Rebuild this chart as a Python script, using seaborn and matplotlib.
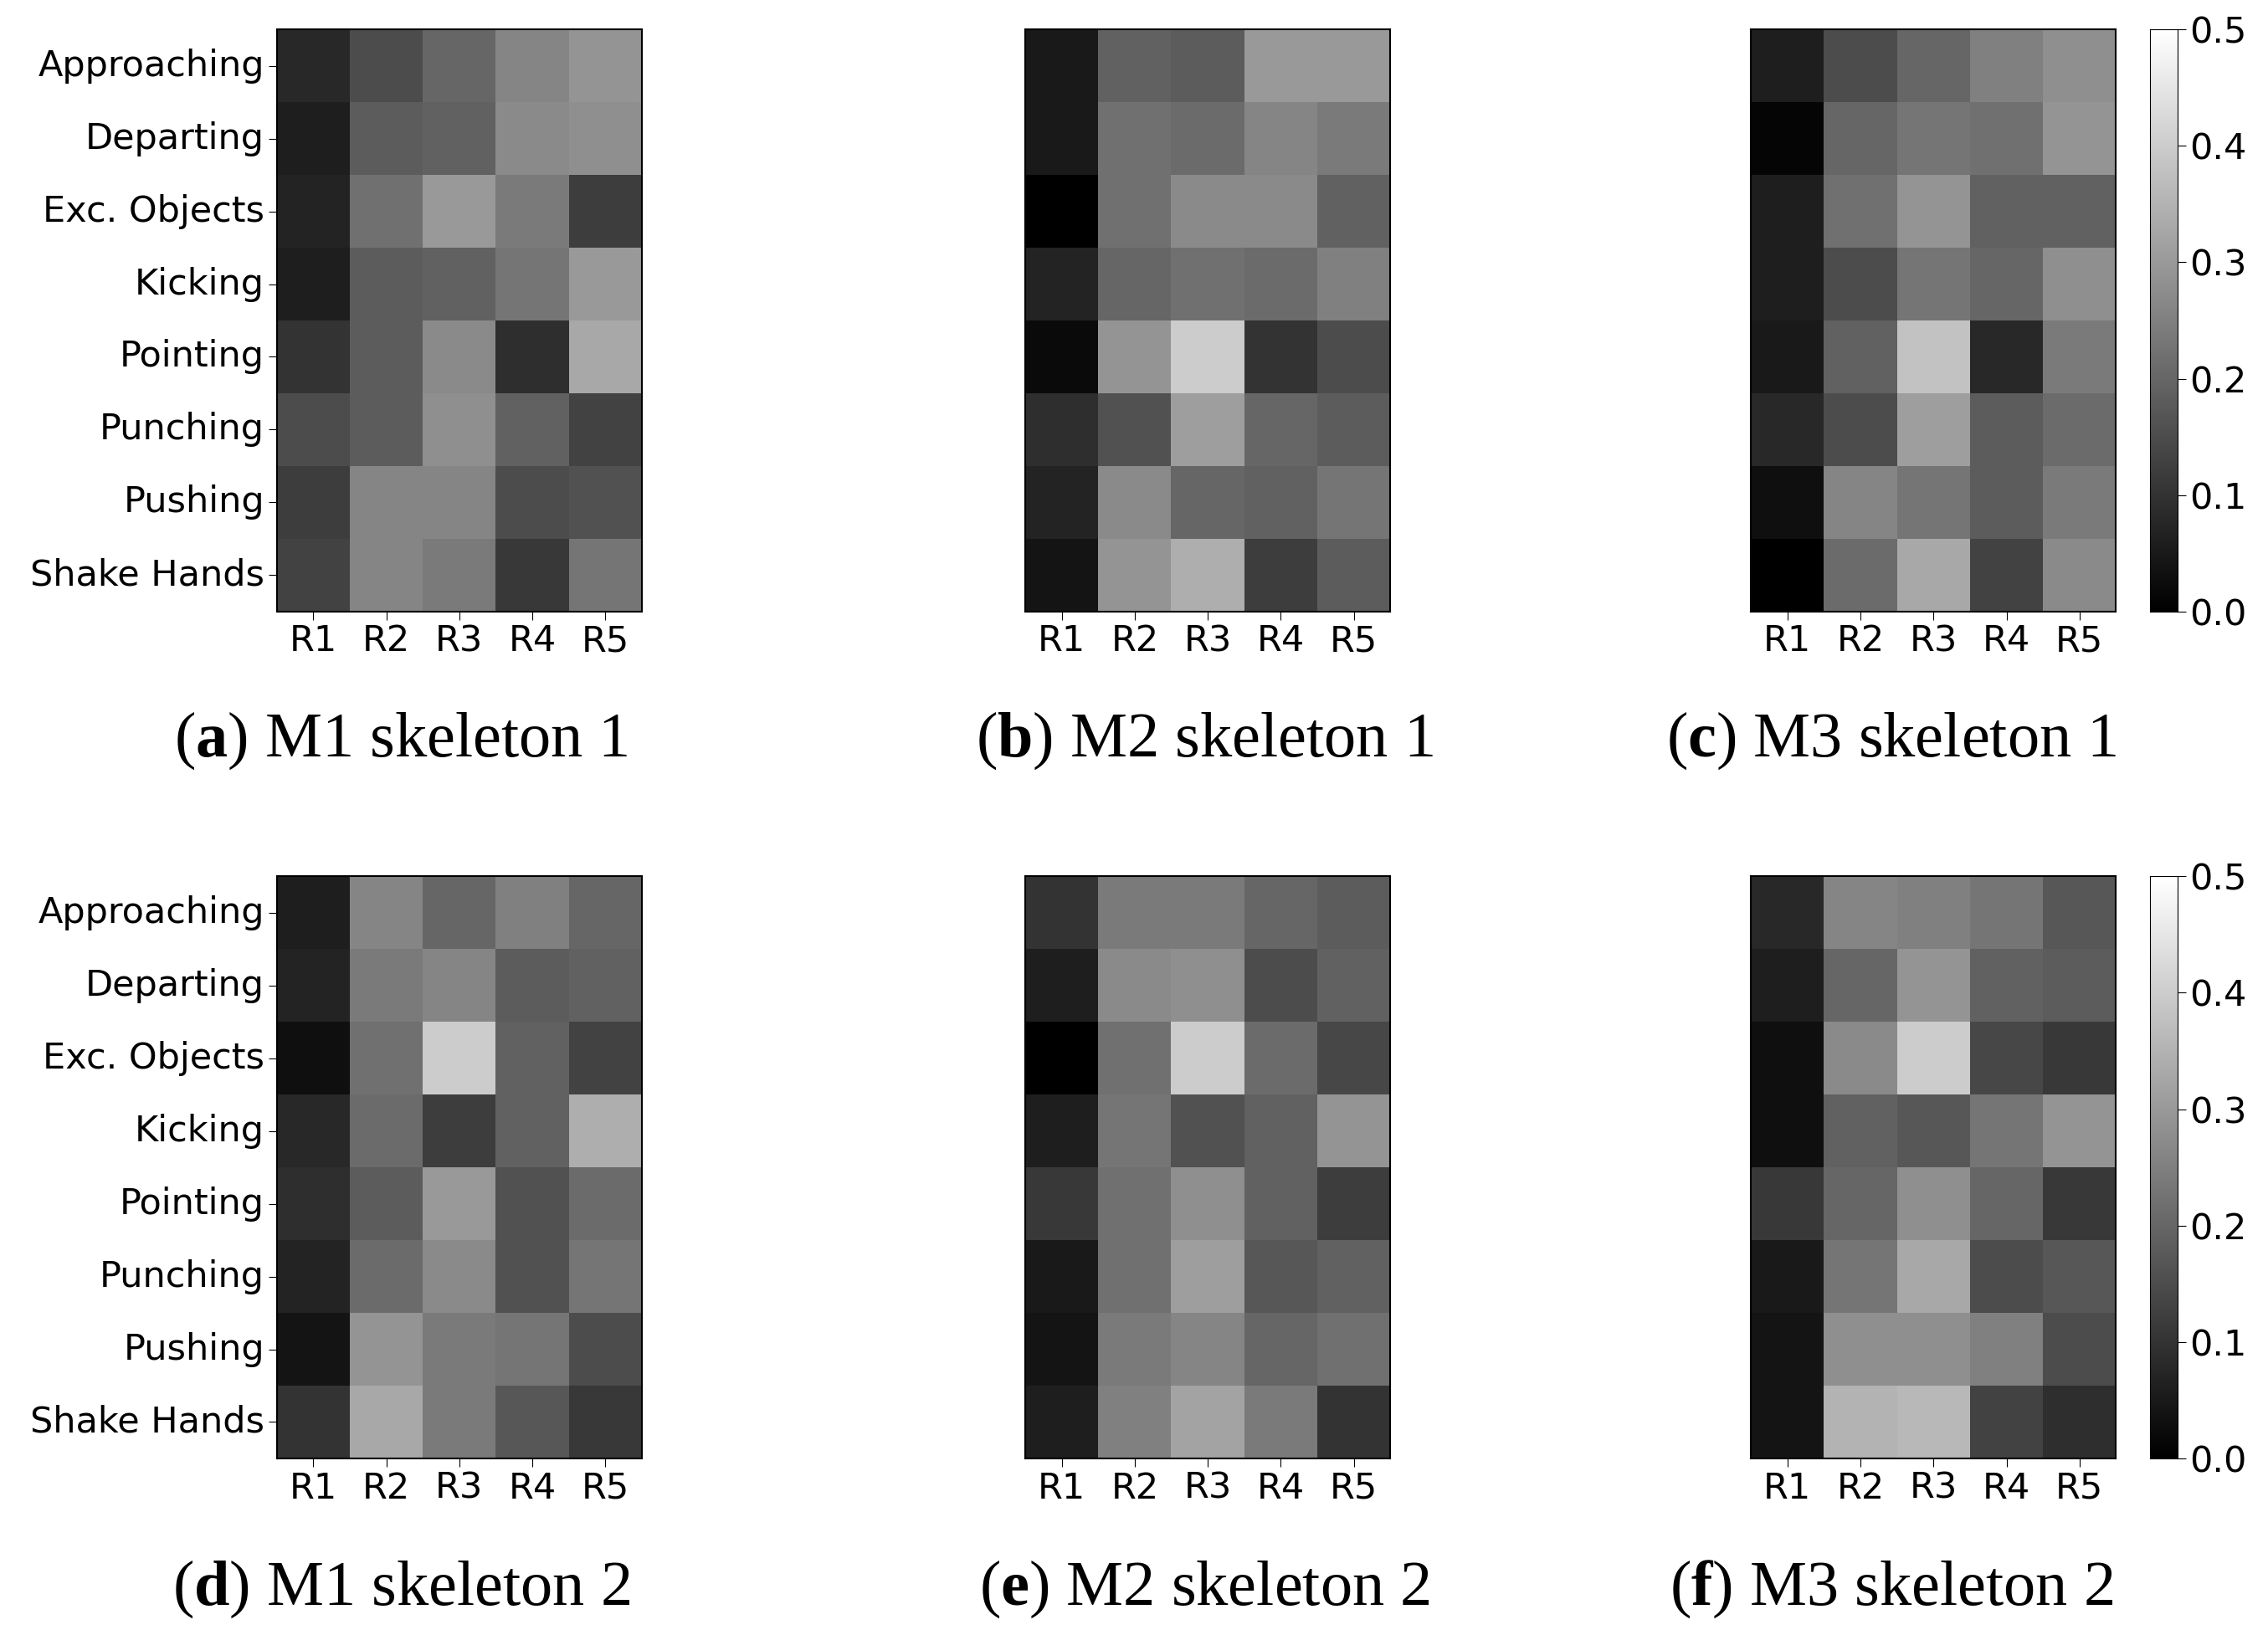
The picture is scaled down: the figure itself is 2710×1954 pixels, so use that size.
import numpy as np
import pandas as pd
import matplotlib
matplotlib.use("Agg")
import matplotlib.pyplot as plt
import seaborn as sns

actions = ["Approaching", "Departing", "Exc. Objects", "Kicking",
           "Pointing", "Punching", "Pushing", "Shake Hands"]
regions = ["R1", "R2", "R3", "R4", "R5"]

m1_s1 = [[0.08, 0.15, 0.20, 0.26, 0.29],
         [0.06, 0.18, 0.19, 0.27, 0.28],
         [0.07, 0.22, 0.30, 0.24, 0.12],
         [0.06, 0.18, 0.19, 0.23, 0.30],
         [0.10, 0.18, 0.27, 0.09, 0.33],
         [0.15, 0.18, 0.28, 0.19, 0.13],
         [0.12, 0.26, 0.26, 0.15, 0.16],
         [0.13, 0.26, 0.24, 0.11, 0.23]]
m2_s1 = [[0.05, 0.19, 0.18, 0.30, 0.30],
         [0.05, 0.22, 0.21, 0.26, 0.24],
         [0.00, 0.22, 0.27, 0.27, 0.19],
         [0.07, 0.20, 0.22, 0.21, 0.25],
         [0.02, 0.29, 0.40, 0.10, 0.15],
         [0.09, 0.16, 0.31, 0.20, 0.18],
         [0.07, 0.27, 0.20, 0.19, 0.23],
         [0.04, 0.29, 0.34, 0.12, 0.18]]
m3_s1 = [[0.06, 0.15, 0.20, 0.25, 0.28],
         [0.01, 0.20, 0.23, 0.22, 0.29],
         [0.06, 0.22, 0.29, 0.19, 0.19],
         [0.06, 0.15, 0.23, 0.20, 0.28],
         [0.05, 0.19, 0.38, 0.08, 0.24],
         [0.08, 0.15, 0.31, 0.18, 0.21],
         [0.03, 0.26, 0.23, 0.18, 0.24],
         [0.00, 0.21, 0.33, 0.13, 0.27]]
m1_s2 = [[0.06, 0.26, 0.20, 0.25, 0.20],
         [0.07, 0.24, 0.26, 0.18, 0.19],
         [0.03, 0.22, 0.40, 0.19, 0.13],
         [0.08, 0.21, 0.12, 0.19, 0.34],
         [0.09, 0.18, 0.30, 0.16, 0.21],
         [0.07, 0.21, 0.27, 0.16, 0.23],
         [0.04, 0.29, 0.24, 0.23, 0.15],
         [0.10, 0.33, 0.24, 0.17, 0.11]]
m2_s2 = [[0.10, 0.24, 0.24, 0.20, 0.18],
         [0.06, 0.27, 0.28, 0.15, 0.19],
         [0.00, 0.22, 0.40, 0.21, 0.14],
         [0.06, 0.23, 0.16, 0.19, 0.29],
         [0.11, 0.22, 0.28, 0.19, 0.12],
         [0.05, 0.22, 0.31, 0.17, 0.19],
         [0.04, 0.24, 0.26, 0.20, 0.22],
         [0.06, 0.25, 0.32, 0.24, 0.10]]
m3_s2 = [[0.08, 0.26, 0.25, 0.23, 0.17],
         [0.06, 0.20, 0.29, 0.19, 0.18],
         [0.03, 0.27, 0.40, 0.14, 0.11],
         [0.03, 0.19, 0.17, 0.23, 0.29],
         [0.11, 0.20, 0.28, 0.20, 0.11],
         [0.05, 0.23, 0.33, 0.15, 0.17],
         [0.04, 0.28, 0.28, 0.25, 0.15],
         [0.04, 0.35, 0.36, 0.13, 0.09]]

panels = [("a", "M1 skeleton 1", m1_s1), ("b", "M2 skeleton 1", m2_s1), ("c", "M3 skeleton 1", m3_s1),
          ("d", "M1 skeleton 2", m1_s2), ("e", "M2 skeleton 2", m2_s2), ("f", "M3 skeleton 2", m3_s2)]

plt.rcParams["mathtext.fontset"] = "custom"
plt.rcParams["mathtext.bf"] = "Liberation Serif:bold"
plt.rcParams["mathtext.rm"] = "Liberation Serif"

fig = plt.figure(figsize=(27.1, 19.54), dpi=100)
lefts = [0.122, 0.452, 0.772]
bottoms = [0.626, 0.108]
w, h = 0.161, 0.356
caption_x = [0.177, 0.531, 0.834]
caption_y = [0.547, 0.028]

for i, (letter, name, vals) in enumerate(panels):
    r, c = divmod(i, 3)
    ax = fig.add_axes([lefts[c], bottoms[r], w, h])
    df = pd.DataFrame(vals, index=actions, columns=regions)
    cbar = c == 2
    cax = fig.add_axes([0.948, bottoms[r], 0.012, h]) if cbar else None
    sns.heatmap(df, ax=ax, cmap="gray", vmin=0, vmax=0.5, cbar=cbar, cbar_ax=cax,
                yticklabels=(c == 0), xticklabels=True)
    ax.tick_params(labelsize=31, length=7)
    ax.set_yticklabels(ax.get_yticklabels() if c == 0 else [], rotation=0)
    ax.set_xticklabels(regions, rotation=0)
    if c != 0:
        ax.tick_params(axis="y", left=False)
    for s in ax.spines.values():
        s.set_visible(True)
        s.set_linewidth(1.5)
    if cbar:
        cax.tick_params(labelsize=31, length=7)
        cax.set_yticks([0, 0.1, 0.2, 0.3, 0.4, 0.5])
        for s in cax.spines.values():
            s.set_visible(True)
    fig.text(caption_x[c], caption_y[r], f"($\\mathbf{{{letter}}}$) {name}",
             ha="center", va="center", fontsize=55, family="Liberation Serif")

fig.savefig("out.png", dpi=100)
